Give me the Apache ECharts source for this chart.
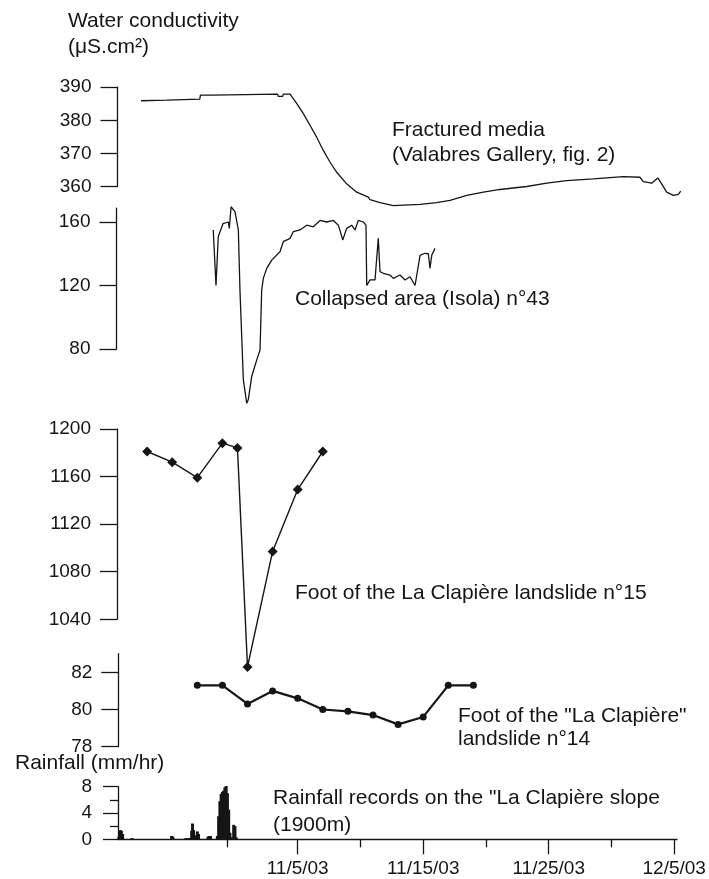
<!DOCTYPE html>
<html>
<head>
<meta charset="utf-8">
<script src="https://cdn.jsdelivr.net/npm/echarts@6/dist/echarts.min.js"></script>
<style>html,body{margin:0;padding:0;background:#fff}#c{width:709px;height:879px}</style>
</head>
<body>
<div id="c"></div>
<script>
// x values: days since 1 Oct 2003 (35 = 11/5/03)
// Fractured media (Valabres Gallery)
const fracT = [22.51, 24.56, 24.6, 27.2, 27.25, 28.15, 28.2, 33.4, 33.45, 33.8, 33.85, 34.39, 34.92, 35.45, 35.98, 36.51, 37.04, 37.57, 38.11, 38.90, 39.70, 40.63, 40.76, 41.56, 42.62, 44.75, 46.08, 47.14, 48.47, 49.79, 51.12, 53.25, 54.84, 56.43, 58.55, 60.94, 62.27, 62.54, 63.21, 63.69, 64.00, 64.40, 64.93, 65.33, 65.52];
const fracV = [385.9, 386.1, 386.2, 386.4, 387.6, 387.6, 387.9, 387.9, 387.2, 387.2, 387.9, 387.9, 385.1, 382, 378.5, 374.9, 370.9, 367.4, 364.3, 360.8, 358.3, 356.8, 356, 355.1, 354.2, 354.6, 355.1, 355.8, 357.3, 358.3, 359.1, 360, 361, 361.8, 362.3, 363, 362.8, 361.5, 361, 362.6, 360.8, 358.3, 357.3, 357.6, 358.6];
// Collapsed area (Isola) n°43
const isolaT = [28.27, 28.49, 28.67, 29.05, 29.47, 29.55, 29.69, 30.00, 30.14, 30.27, 30.40, 30.67, 30.94, 31.06, 31.33, 31.73, 32.00, 32.13, 32.26, 32.53, 32.93, 33.59, 33.85, 34.39, 34.65, 35.18, 35.72, 36.24, 36.78, 37.31, 37.84, 38.24, 38.59, 38.90, 39.30, 39.57, 39.83, 40.23, 40.44, 40.50, 40.76, 41.16, 41.29, 41.42, 41.56, 41.82, 42.35, 42.62, 43.15, 43.55, 43.95, 44.35, 44.48, 44.75, 45.14, 45.41, 45.54, 45.68, 45.94];
const isolaV = [155, 120, 150.7, 159, 160, 156, 169.6, 166.5, 165.6, 155, 117, 60.5, 45.8, 48, 62.5, 73, 79.4, 117, 124.5, 130.8, 136, 141.3, 147.6, 149.7, 153.9, 155, 158, 157, 161, 160, 161, 158, 148.7, 156, 158, 155, 161, 160, 158, 120, 123.5, 123.5, 122.4, 149.7, 128.7, 127.7, 126.6, 124.5, 126.6, 123.5, 125.5, 120, 119, 139, 140.3, 140, 130.8, 139, 143.4];
// Foot of the La Clapière landslide n°15
const clap15T = [23, 25, 27, 29, 30.2, 31, 33, 35, 37];
const clap15V = [1181, 1172, 1159, 1188, 1184, 1000, 1097, 1149, 1181];
// Foot of the "La Clapière" landslide n°14
const clap14T = [27, 29, 31, 33, 35, 37, 39, 41, 43, 45, 47, 49];
const clap14V = [81.3, 81.3, 80.3, 81.0, 80.6, 80.0, 79.9, 79.7, 79.2, 79.6, 81.3, 81.3];
// Rainfall (mm/hr)
const rainT = [20.75, 20.85, 20.95, 21.05, 21.8, 24.95, 25.05, 26.05, 26.2, 26.35, 26.55, 26.62, 26.7, 26.9, 27.0, 27.1, 27.85, 27.95, 28.05, 28.6, 28.7, 28.8, 28.9, 29.0, 29.1, 29.2, 29.3, 29.4, 29.5, 29.6, 29.7, 29.9, 30.0, 30.1];
const rainV = [0.4, 1.4, 1.3, 0.8, 0.2, 0.5, 0.4, 0.15, 0.2, 0.2, 1.3, 2.4, 1.4, 0.6, 1.2, 0.8, 0.4, 0.5, 0.5, 0.5, 3.5, 5.8, 6.9, 7.2, 7.4, 7.9, 8.1, 7.0, 4.5, 1.0, 0.3, 2.2, 2.0, 0.3];
// tick values
const xTickMajor = [35, 45, 55, 65];
const xTickMinor = [29.4, 40, 50, 60];
const yTicks1 = [360, 370, 380, 390];
const yTicks2 = [80, 120, 160];
const yTicks3 = [1040, 1080, 1120, 1160, 1200];
const yTicks4 = [78, 80, 82];
const yTicks5Major = [0, 4, 8];
const yTicks5Minor = [2, 6];

const FONT = '"Liberation Sans", Arial, Helvetica, sans-serif';
const INK = '#151515';
const W = 709;
const X_REF_T = 35, X_REF_PX = 297.7, X_PPD = 12.55;
function xRange(L, R) {
  return { min: X_REF_T + (L - X_REF_PX) / X_PPD, max: X_REF_T + (R - X_REF_PX) / X_PPD };
}
function zip(a, b) { return a.map((v, i) => [v, b[i]]); }
function fmtDate(t) {
  const d = new Date(2003, 9, 1 + Math.round(t));
  return (d.getMonth() + 1) + '/' + d.getDate() + '/' + String(d.getFullYear()).slice(2);
}
function fmtNum(v) { return String(v); }

const grids = [], xAxes = [], yAxes = [];
function addGrid(g, x, y) {
  grids.push(g);
  const i = grids.length - 1;
  xAxes.push(Object.assign({ gridIndex: i }, x));
  yAxes.push(Object.assign({ gridIndex: i }, y));
  return i;
}
const lineSt = { color: INK, width: 1.3 };
const labelSt = { fontSize: 19, fontFamily: FONT, color: INK };

const panels = [
  { axisX: 117.5, y0: 186.5, ppu: 3.31, aMin: 360, aMax: 390, dMin: 350, dMax: 392, ticks: yTicks1 },
  { axisX: 116.5, y0: 349, ppu: 1.5875, aMin: 80, aMax: 168.8, dMin: 40, dMax: 172, ticks: yTicks2 },
  { axisX: 117, y0: 619.3, ppu: 1.19, aMin: 1040, aMax: 1200, dMin: 990, dMax: 1205, ticks: yTicks3 },
  { axisX: 118.3, y0: 746.7, ppu: 18.6, aMin: 78, aMax: 83, dMin: 77, dMax: 83.5, ticks: yTicks4 }
];
const xrData = xRange(118, 690);
const dataIdx = panels.map(p => {
  addGrid(
    { left: p.axisX, width: 20, top: p.y0 - (p.aMax - p.aMin) * p.ppu, height: (p.aMax - p.aMin) * p.ppu },
    { type: 'value', show: false, min: 0, max: 1 },
    {
      type: 'value', min: p.aMin, max: p.aMax,
      axisLine: { show: true, onZero: false, lineStyle: lineSt },
      axisTick: { show: true, inside: false, length: 17, customValues: p.ticks, lineStyle: lineSt },
      axisLabel: Object.assign({ show: true, customValues: p.ticks, margin: 26, formatter: fmtNum }, labelSt),
      splitLine: { show: false }
    }
  );
  return addGrid(
    { left: 118, right: W - 690, top: p.y0 - (p.dMax - p.aMin) * p.ppu, height: (p.dMax - p.dMin) * p.ppu },
    { type: 'value', show: false, min: xrData.min, max: xrData.max },
    { type: 'value', show: false, min: p.dMin, max: p.dMax }
  );
});

// Rainfall panel with the shared date axis
const xrRain = xRange(118, 677);
const rainGeom = { left: 118, right: W - 677, top: 839.3 - 8 * 6.58, height: 8 * 6.58 };
const rainIdx = addGrid(Object.assign({}, rainGeom),
  {
    type: 'value', min: xrRain.min, max: xrRain.max,
    axisLine: { show: true, onZero: false, lineStyle: lineSt },
    axisTick: { show: true, length: 15, customValues: xTickMajor, lineStyle: lineSt },
    axisLabel: Object.assign({ show: true, customValues: xTickMajor, margin: 20, formatter: fmtDate }, labelSt),
    splitLine: { show: false }
  },
  {
    type: 'value', min: 0, max: 8,
    axisLine: { show: true, onZero: false, lineStyle: lineSt },
    axisTick: { show: true, length: 15, customValues: yTicks5Major, lineStyle: lineSt },
    axisLabel: Object.assign({ show: true, customValues: yTicks5Major, margin: 26, formatter: fmtNum }, labelSt),
    splitLine: { show: false }
  });
addGrid(Object.assign({}, rainGeom),
  {
    type: 'value', min: xrRain.min, max: xrRain.max,
    axisLine: { show: false, onZero: false },
    axisTick: { show: true, length: 8, customValues: xTickMinor, lineStyle: lineSt },
    axisLabel: { show: false }, splitLine: { show: false }
  },
  {
    type: 'value', min: 0, max: 8,
    axisLine: { show: false, onZero: false },
    axisTick: { show: true, length: 8, customValues: yTicks5Minor, lineStyle: lineSt },
    axisLabel: { show: false }, splitLine: { show: false }
  });

const series = [
  { type: 'line', xAxisIndex: dataIdx[0], yAxisIndex: dataIdx[0], data: zip(fracT, fracV), symbol: 'none', lineStyle: { color: INK, width: 1.3 }, clip: false },
  { type: 'line', xAxisIndex: dataIdx[1], yAxisIndex: dataIdx[1], data: zip(isolaT, isolaV), symbol: 'none', lineStyle: { color: INK, width: 1.3 }, clip: false },
  { type: 'line', xAxisIndex: dataIdx[2], yAxisIndex: dataIdx[2], data: zip(clap15T, clap15V), symbol: 'diamond', symbolSize: 10, itemStyle: { color: INK }, lineStyle: { color: INK, width: 1.4 }, clip: false },
  { type: 'line', xAxisIndex: dataIdx[3], yAxisIndex: dataIdx[3], data: zip(clap14T, clap14V), symbol: 'circle', symbolSize: 7, itemStyle: { color: INK }, lineStyle: { color: INK, width: 2.2 }, clip: false },
  { type: 'bar', xAxisIndex: rainIdx, yAxisIndex: rainIdx, data: zip(rainT, rainV), barWidth: 3, itemStyle: { color: INK }, clip: false }
];

const ANN = 21;
function txt(s, x, y, size) {
  return { type: 'text', x: x, y: y, style: { text: s, fontSize: size || ANN, fontFamily: FONT, fill: INK, textVerticalAlign: 'middle', textAlign: 'left' } };
}
const graphics = [
  txt('Water conductivity', 68, 21),
  txt('(\u03bcS.cm\u00b2)', 68, 47),
  txt('Fractured media', 392, 130),
  txt('(Valabres Gallery, fig. 2)', 392, 155),
  txt('Collapsed area (Isola) n\u00b043', 295, 299),
  txt('Foot of the La Clapi\u00e8re landslide n\u00b015', 295, 593),
  txt('Foot of the "La Clapi\u00e8re"', 458, 716),
  txt('landslide n\u00b014', 458, 739),
  txt('Rainfall (mm/hr)', 15, 763),
  txt('Rainfall records on the "La Clapi\u00e8re slope', 273, 798),
  txt('(1900m)', 273, 825)
];

const chart = echarts.init(document.getElementById('c'), null, { renderer: 'canvas' });
chart.setOption({
  backgroundColor: '#ffffff',
  animation: false,
  grid: grids,
  xAxis: xAxes,
  yAxis: yAxes,
  series: series,
  graphic: graphics
});
</script>
</body>
</html>
